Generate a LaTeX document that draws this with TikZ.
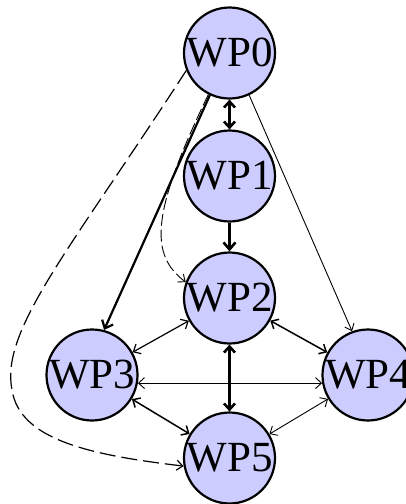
\documentclass[tikz,border=0pt]{standalone}
\usepackage{fontspec}
\setmainfont{Liberation Serif}
\usetikzlibrary{arrows.meta}
\definecolor{wpfill}{RGB}{204,204,255}
\tikzset{
  wp/.style={circle, draw=black, line width=2.2pt, fill=wpfill, minimum size=91pt, inner sep=0pt, font=\fontsize{43}{43}\selectfont},
  edgethick/.style={line width=2.6pt, -{Straight Barb[length=7pt,width=12pt]}},
  edgemid/.style={line width=1.5pt, -{Straight Barb[length=6pt,width=11pt]}},
  edgethin/.style={line width=0.9pt, -{Straight Barb[length=6pt,width=10pt]}},
  both/.style={{Straight Barb[length=6pt,width=11pt]}-{Straight Barb[length=6pt,width=11pt]}},
}
\begin{document}
\begin{tikzpicture}[x=1pt,y=-1pt]
\useasboundingbox (0,0) rectangle (405,504);
\node[wp] (wp0) at (229.5,53) {WP0};
\node[wp] (wp1) at (229.5,176) {WP1};
\node[wp] (wp2) at (229.5,298) {WP2};
\node[wp] (wp3) at (92,375) {WP3};
\node[wp] (wp4) at (368,375) {WP4};
\node[wp] (wp5) at (229.5,458) {WP5};
% edges
\draw[edgethick, both] (wp0) -- (wp1);
\draw[edgethick] (wp1) -- (wp2);
\draw[edgethick, both] (wp2) -- (wp5);
\draw[edgethick, line width=2.2pt] (wp0.245) -- (wp3.75);
\draw[edgethin] (wp0.295) -- (wp4.110);
\draw[edgemid, both, line width=1.2pt] (wp2) -- (wp3);
\draw[edgemid, both] (wp2) -- (wp4);
\draw[edgethin, both] (wp3.350) -- (wp4.190);
\draw[edgemid, both] (wp3) -- (wp5);
\draw[edgethin, both] (wp4) -- (wp5);
\draw[edgethin, dashed, dash pattern=on 12pt off 4pt] (wp0.243) .. controls (150,215) and (150,255) .. (wp2.160);
\draw[edgethin, line width=1.2pt, dashed, dash pattern=on 16pt off 6pt] (wp0.202) .. controls (70,250) and (0,330) .. (12,390) .. controls (20,440) and (90,455) .. (wp5.190);
\end{tikzpicture}
\end{document}
